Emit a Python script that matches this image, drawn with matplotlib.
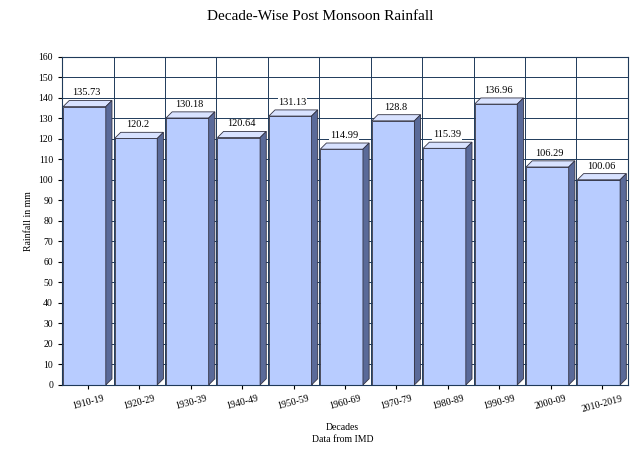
import matplotlib
matplotlib.use("Agg")
import matplotlib.pyplot as plt
from matplotlib.patches import Polygon

decades = ["1910-19","1920-29","1930-39","1940-49","1950-59","1960-69","1970-79","1980-89","1990-99","2000-09","2010-2019"]
rainfall = [135.73,120.2,130.18,120.64,131.13,114.99,128.8,115.39,136.96,106.29,100.06]
labels = ["135.73","120.2","130.18","120.64","131.13","114.99","128.8","115.39","136.96","106.29","100.06"]

plt.rcParams['font.family'] = ['Liberation Serif', 'DejaVu Serif']
fig = plt.figure(figsize=(6.4, 4.7), dpi=100)
ax = fig.add_axes([0.097, 0.181, 0.884, 0.698])
n = len(decades)
ax.set_xlim(-0.5, n - 0.5)
ax.set_ylim(0, 160)
ax.set_yticks(range(0, 161, 10))
ax.set_xticks(range(n))
ax.set_xticklabels(decades, rotation=15, fontsize=7)
ax.tick_params(axis='y', labelsize=7, length=3)
ax.tick_params(axis='x', length=3)
for i in range(n + 1):
    ax.axvline(i - 0.5, color='#1f3a5a', lw=0.7, zorder=0)
for y in range(0, 161, 10):
    ax.axhline(y, color='#1f3a5a', lw=0.7, zorder=0)
for s in ax.spines.values():
    s.set_color('#1f3a5a')

dx, dy = 0.12, 3.0
for i, v in enumerate(rainfall):
    x0, x1 = i - 0.48, i + 0.35
    ax.add_patch(Polygon([(x0, 0), (x1, 0), (x1, v), (x0, v)], closed=True,
                         facecolor='#b8ccff', edgecolor='#333344', lw=0.6, zorder=2))
    ax.add_patch(Polygon([(x0, v), (x1, v), (x1 + dx, v + dy), (x0 + dx, v + dy)], closed=True,
                         facecolor='#d8e2ff', edgecolor='#333344', lw=0.6, zorder=2))
    ax.add_patch(Polygon([(x1, 0), (x1 + dx, dy), (x1 + dx, v + dy), (x1, v)], closed=True,
                         facecolor='#5a6a99', edgecolor='#333344', lw=0.6, zorder=2))
    ax.text(i - 0.02, v + dy + 1.5, labels[i], ha='center', va='bottom', fontsize=7.5, zorder=3,
            bbox=dict(facecolor='white', edgecolor='none', pad=0.5))

ax.set_ylabel("Rainfall in mm", fontsize=7)
fig.text(0.535, 0.085, "Decades", ha='center', fontsize=7)
fig.text(0.535, 0.06, "Data from IMD", ha='center', fontsize=7)
fig.text(0.5, 0.965, "Decade-Wise Post Monsoon Rainfall", ha='center', va='center', fontsize=11)
fig.savefig("out.png", dpi=100)
